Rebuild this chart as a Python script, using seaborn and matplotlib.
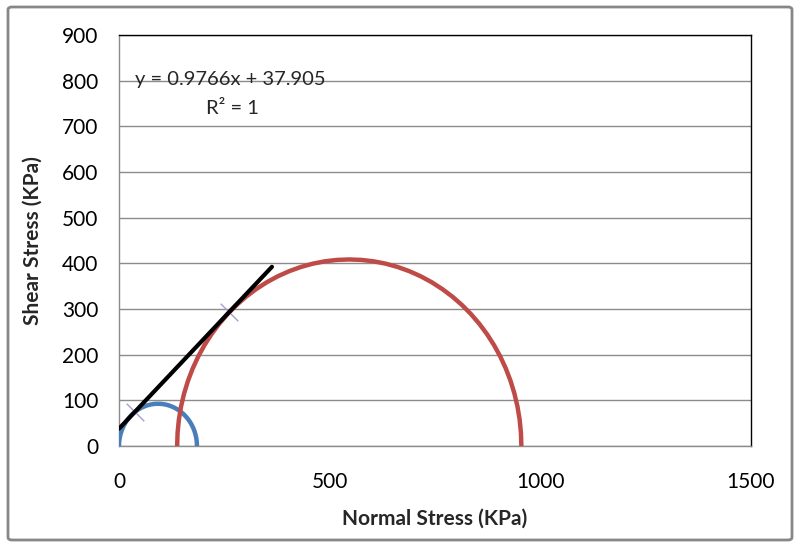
import numpy as np
import pandas as pd
import matplotlib
matplotlib.use("Agg")
import matplotlib.pyplot as plt
import seaborn as sns
from matplotlib.patches import FancyBboxPatch

# Mohr circles: principal stresses (KPa)
sigma3 = [0, 138]
sigma1 = [185, 955]
circle_colors = ["#4a7ebb", "#be4b48"]

# Failure envelope (trend line)
env_x = [0, 363]
slope = 0.9766
intercept = 37.905

# Tangent points
tan_x = [38, 261]
tan_y = [75, 293]

x_ticks = [0, 500, 1000, 1500]
y_ticks = [0, 100, 200, 300, 400, 500, 600, 700, 800, 900]

sns.set_style("white")
plt.rcParams['font.family'] = ['Lato', 'DejaVu Sans']

fig = plt.figure(figsize=(7.99, 5.48), dpi=100)
ax = fig.add_axes([119/799, 1-446/548, (751-119)/799, (446-35)/548])

theta = np.linspace(0, np.pi, 45)
for s3, s1, c in zip(sigma3, sigma1, circle_colors):
    cen = (s1 + s3) / 2
    r = (s1 - s3) / 2
    df = pd.DataFrame({"x": cen - r*np.cos(theta), "y": r*np.sin(theta)})
    sns.lineplot(data=df, x="x", y="y", sort=False, color=c, lw=3.2, ax=ax,
                 estimator=None, zorder=3)

env_df = pd.DataFrame({"x": env_x, "y": [slope*v + intercept for v in env_x]})
sns.lineplot(data=env_df, x="x", y="y", color="black", lw=3, ax=ax,
             estimator=None, zorder=4)

tp = pd.DataFrame({"x": tan_x, "y": tan_y})
sns.scatterplot(data=tp, x="x", y="y", marker="x", s=160, color="#a99bd0",
                linewidth=1.0, ax=ax, zorder=3)

ax.set_xlim(0, 1500)
ax.set_ylim(0, 900)
ax.set_xticks(x_ticks)
ax.set_yticks(y_ticks)
ax.set_xticklabels([str(v) for v in x_ticks])
ax.set_yticklabels([str(v) for v in y_ticks])
ax.yaxis.grid(True, color="#8c8c8c", lw=1)
ax.xaxis.grid(False)
ax.set_axisbelow(True)
ax.tick_params(axis="both", labelsize=15, colors="#8c8c8c", length=5,
               width=1, direction="out", labelcolor="black")
ax.tick_params(axis="x", pad=14)
ax.tick_params(axis="y", pad=10)
for s in ["left", "bottom"]:
    ax.spines[s].set_color("#8c8c8c")
    ax.spines[s].set_linewidth(1)
for s in ["top", "right"]:
    ax.spines[s].set_color("black")
    ax.spines[s].set_linewidth(1)
    ax.spines[s].set_visible(True)

ax.set_xlabel("Normal Stress (KPa)", fontsize=15, fontweight="bold", labelpad=12)
ax.set_ylabel("Shear Stress (KPa)", fontsize=15, fontweight="bold", labelpad=14)

fig.text(135/799, 1-80/548, "y = 0.9766x + 37.905", fontsize=14.5, va="center", ha="left")
fig.text(232/799, 1-108/548, "R² = 1", fontsize=14.5, va="center", ha="center")

border = FancyBboxPatch((8/799, 8/548), 784/799, 533/548,
                        boxstyle="round,pad=0,rounding_size=0.005",
                        transform=fig.transFigure, fill=False,
                        edgecolor="#878787", lw=2)
fig.patches.append(border)

fig.savefig("out.png", dpi=100)
